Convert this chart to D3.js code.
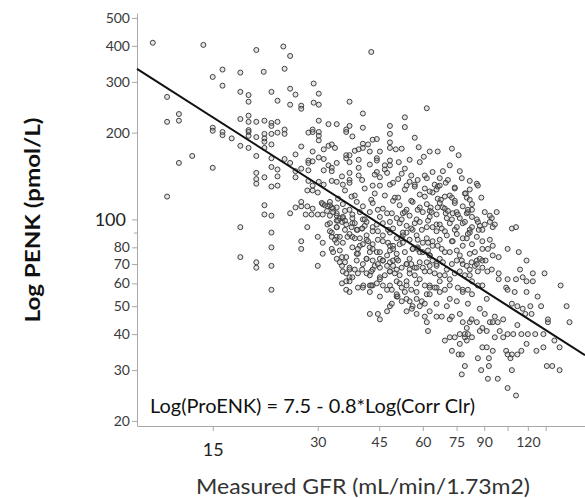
<!DOCTYPE html>
<html>
<head>
<meta charset="utf-8">
<script src="https://cdn.jsdelivr.net/npm/d3@7"></script>
<style>
  body { margin: 0; background: #fff; }
  text { font-family: Lato, "Open Sans", sans-serif; }
</style>
</head>
<body>
<div id="chart"></div>
<script>
const width = 585
const height = 498
const margins = { top: 13, bottom: 72, left: 137, right: 0 }

// tick values
const xTicks = [15, 30, 45, 60, 75, 90, 105, 120, 135]
const xLabels = [15, 30, 45, 60, 75, 90, 120]
const yTicks = [20, 30, 40, 50, 60, 70, 80, 90, 100, 200, 300, 400, 500]
const yLabels = [20, 30, 40, 50, 60, 70, 80, 100, 200, 300, 400, 500]

// fitted line as drawn (ends at plot edges)
const lineGfr = [9.1, 175]
const linePenk = [333, 33.8]

// measured GFR (x) and PENK (y)
const gfr = [
  10.1,14.1,20.0,23.9,25.0,16.0,15.0,18.0,21.0,24.1,16.0,18.0,19.0,19.0,22.1,23.0,25.0,25.0,11.1,12.0,
  11.1,12.0,15.0,15.0,16.0,16.0,17.0,18.0,19.0,19.0,20.0,21.1,22.1,22.1,23.0,19.0,19.0,19.0,20.0,21.1,
  21.1,21.1,22.1,23.0,24.1,24.1,18.0,19.0,21.1,22.1,13.1,20.0,22.1,24.1,12.0,15.0,11.1,20.0,20.0,20.0,
  21.1,22.1,22.1,23.0,23.0,23.0,25.0,21.1,21.1,22.1,25.0,18.0,22.1,22.1,18.0,20.0,20.0,22.1,22.1,
  25.9,26.9,26.9,26.9,28.0,30.0,30.0,31.0,31.0,32.0,32.9,32.9,32.9,34.0,34.0,34.0,34.0,35.2,35.2,27.7,
  28.8,30.0,31.0,28.0,29.0,31.0,32.0,32.9,34.0,34.0,35.2,35.2,36.2,36.2,36.2,
  26.9,28.0,29.0,30.0,30.8,31.4,32.5,33.2,31.9,32.5,34.0,34.7,35.4,35.9,37.7,37.7,37.5,39.0,40.2,40.9,
  36.5,37.7,41.4,41.4,39.6,42.3,43.1,44.3,45.2,43.1,41.4,43.7,45.2,47.4,48.3,49.3,50.5,46.1,48.3,50.5,
  52.2,53.9,55.0,56.9,58.8,60.0,62.8,65.7,48.3,49.3,51.5,52.6,55.0,56.1,58.0,60.0,62.8,64.0,66.2,
  37.0,37.0,37.0,38.3,39.1,40.2,40.5,42.3,42.3,43.1,45.2,46.1,42.3,44.6,48.3,50.5,48.3,51.5,53.9,53.3,
  56.1,57.6,59.6,61.6,62.8,65.7,
  45.2,47.4,62.1,50.8,55.0,53.9,57.6,60.8,61.6,55.8,58.8,62.8,65.7,68.0,71.7,69.4,71.7,74.1,76.6,79.2,
  80.2,76.6,83.0,72.7,76.0,77.6,79.2,77.6,86.3,88.2,92.8,92.8,92.2,98.4,105,111,88.9,91.5,95.2,104,
  105,108,107,112,115,108,119,127,133,136,141,148,158,155,137,137,131,128,119,110,
  148,143,133,126,120,115,112,109,105,102,99.7,96.5,118,116,112,108,123,122,102,98.4,
  93.4,88.9,87.4,91.5,95.2,85.7,81.8,80.2,78.1,79.2,80.8,
  76.0,64.0,68.5,69.8,85.7,86.3,79.7,80.2,64.0,65.7,66.2,67.6,72.7,74.1,83.0,63.2,66.2,68.5,69.8,75.0,
  80.8,83.0,86.3,94.6,96.5,108,111,86.8,83.0,88.9,95.2,105,113,95.2,99.0,119,114,124,134,149,
  116,124,111,105,119,104,105,99.0,99.0,94.6,88.9,91.9,88.9,85.7,84.6,81.8,78.1,
  29.2,30.2,25.9,26.9,26.9,29.2,30.2,37.0,61.6,40.4,53.3,53.3,30.2,32.2,34.0,37.0,36.2,36.2,40.4,37.7,
  48.3,48.3,48.3,56.9,28.2,29.0,29.0,30.2,30.2,30.2,26.9,29.0,31.2,32.2,32.9,40.4,43.1,44.3,39.3,40.4,
  42.3,45.2,48.3,52.2,25.9,28.2,28.2,29.0,30.2,31.2,36.2,36.2,37.0,39.3,44.3,44.3,42.3,39.3,48.3,55.0,
  60.4,62.8,25.9,26.9,28.2,32.2,32.9,31.2,34.0,32.9,37.0,37.0,37.0,39.3,44.3,46.7,46.7,48.3,47.4,45.2,
  51.2,52.2,61.6,58.0,25.9,28.2,29.0,30.2,31.2,32.9,34.0,35.4,37.0,43.1,45.2,48.3,49.3,53.9,56.9,64.9,
  42.7,
  32.5,34.0,35.4,37.0,38.8,40.4,43.1,46.1,49.3,51.5,53.9,56.1,58.8,61.6,62.8,67.1,69.4,74.1,78.1,83.0,
  33.2,35.4,37.7,40.4,42.3,45.2,47.4,50.5,52.6,55.0,57.6,60.0,62.8,65.7,70.3,73.1,76.6,80.2,85.7,93.4,97.7,
  32.5,34.0,36.2,38.8,41.4,43.1,46.1,49.3,51.5,53.9,56.1,58.8,61.6,65.7,68.0,71.7,75.1,78.1,81.8,87.4,93.4,95.2,
  32.5,34.7,37.0,39.6,43.1,46.1,48.3,50.5,53.9,57.6,61.6,65.7,70.3,75.1,78.1,81.8,85.7,
  35.4,37.7,40.4,43.1,46.1,49.3,52.6,56.1,60.0,64.0,68.0,73.1,78.1,83.0,88.9,
  33.2,36.2,38.8,41.4,45.2,47.4,50.5,55.0,58.8,62.8,67.1,71.7,76.6,81.8,87.4,
  34.7,37.0,40.4,43.1,46.1,49.3,53.9,57.6,61.6,65.7,70.3,75.1,80.2,85.7,
  35.4,37.7,41.4,45.2,48.3,51.5,55.0,58.8,62.8,67.1,71.7,76.6,81.8,
  37.0,40.4,44.3,47.4,50.5,53.9,57.6,62.8,67.1,71.7,78.1,83.0,88.9,
  42.3,45.2,50.5,53.9,57.6,62.8,67.1,71.7,78.1,83.0,91.5,
  35.9,38.3,40.9,43.7,49.9,53.3,58.8,62.8,69.4,74.1,79.2,
  53.3,55.6,58.8,67.1,71.7,76.6,81.8,
  33.6,38.3,41.8,50.2,58.4,66.2,72.7,
  35.2,40.2,43.7,51.0,55.0,60.8,70.8,77.6,
  34.3,37.5,42.7,46.7,51.0,55.6,60.8,66.2,71.7,81.8,88.3,
  35.9,39.6,44.6,48.9,53.3,58.0,63.6,70.8,75.6,80.8,90.3,
  34.3,38.3,40.9,44.3,48.3,52.2,56.9,62.1,67.1,72.7,79.2,90.3,
  35.9,40.2,44.6,47.7,52.6,55.6,59.6,64.0,69.4,74.1,80.8,88.9,
  33.6,38.3,41.8,44.6,47.7,52.2,58.0,62.1,67.1,72.7,80.2,93.4,
  34.7,39.1,42.3,48.3,53.3,58.0,62.1,69.4,75.1,84.6,92.2,
  35.9,38.8,44.6,51.0,55.6,64.0,68.5,72.7,77.6,82.8,90.8,
  39.1,42.7,46.7,49.9,56.9,60.8,64.9,69.4,74.1,79.2,86.3,
  39.1,42.7,48.9,52.2,55.6,60.8,64.9,69.4,75.6,80.8,86.3,
  48.9,52.2,60.8,65.7,70.3,75.1,80.8,87.4,
  72.7,76.6,82.8,90.3,96.5,
  56.9,60.8,67.1,74.1,81.8
]
const penk = [
  410,403,387,398,369,331,312,323,325,333,291,277,270,256,277,258,284,250,266,232,
  218,220,208,203,201,196,191,223,229,218,218,220,216,211,218,204,201,195,193,198,
  191,186,198,200,205,198,180,177,177,182,166,166,163,162,157,151,120,145,138,133,
  140,152,130,149,141,131,157,112,104,103,105,94,90,80,74,71,68,69,57,
  110,111,84,79,94,87,69,83,76,96,90,87,79,94,87,83,73,69,60,104,
  104,104,104,111,109,113,111,110,103,99,98,74,65,61,57,
  115,126,126,124,114,112,112,109,107,103,105,101,101,99,101,97,94,92,93,95,
  87,87,88,85,81,80,82,77,73,72,73,69,68,69,71,72,73,72,66,67,
  68,70,67,68,71,68,69,70,81,79,82,88,85,79,80,77,75,84,81,
  56,63,67,67,76,67,59,64,59,59,63,59,47,47,50,54,59,60,61,56,
  50,53,52,55,59,58,
  45,48,41,54,52,48,47,46,44,49,50,48,46,46,45,38,39,39,40,39,
  38,37,39,35,34,34,31,29,33,30,33,31,28,28,26,24.5,36,36,35,35,
  34,34,33,34,35,30,37,35,36,31,31,30,44,50,44,45,50,54,56,56,
  36,38,40,40,40,40,43,40,40,39,41,39,47,49,50,51,47,50,45,44,
  44,42,41,41,44,44,44,42,44,40,40,
  167,146,147,134,133,131,123,119,124,127,130,117,119,114,113,110,110,110,105,106,
  106,102,98,101,96,93,94,92,94,84,81,79,77,75,74,72,67,65,65,59,
  63,61,62,62,61,58,57,65,62,67,68,66,72,72,69,67,70,
  296,273,271,248,242,254,250,256,243,233,226,209,220,214,214,211,205,201,208,194,
  211,198,185,192,200,205,201,201,195,188,179,172,175,180,182,183,189,190,175,177,
  172,172,177,176,168,160,157,159,164,162,167,163,167,161,163,160,155,151,160,161,
  165,172,147,150,148,154,151,148,157,147,158,145,137,142,146,154,149,154,145,140,
  158,144,139,137,140,136,131,135,132,136,135,132,134,131,131,132,134,131,132,132,
  381,
  115,110,113,108,115,111,114,109,116,112,108,115,110,113,107,114,109,116,111,108,
  106,102,104,100,106,102,105,101,105,103,100,106,102,104,101,105,101,105,100,103,106,
  97,94,96,92,98,94,97,93,97,95,92,98,94,96,93,97,94,97,92,95,98,94,
  91,87,89,86,91,88,90,86,90,88,86,91,88,89,86,90,87,
  83,80,82,79,84,81,83,79,83,81,79,84,81,82,79,
  77,74,76,73,77,75,76,73,77,75,73,77,75,76,73,
  71,68,70,67,72,69,70,68,71,69,67,72,69,70,
  66,63,65,62,66,64,65,62,66,64,62,66,64,
  61,58,60,57,61,59,60,58,61,59,57,61,59,
  56,54,55,53,56,55,56,53,56,55,53,
  126,121,128,123,119,127,122,125,120,128,123,
  150,142,158,139,154,147,136,
  177,173,182,175,178,172,176,
  141,137,143,138,135,142,137,139,
  118,120,117,121,119,116,120,118,121,117,119,
  107,106,108,105,106,108,106,107,104,108,106,
  99,97,100,96,98,100,97,99,96,100,98,96,
  92,93,91,92,90,93,92,94,91,92,89,92,
  85,86,84,85,83,86,85,83,85,84,86,85,
  78,79,77,78,77,79,78,77,78,77,79,
  71,72,70,72,70,72,71,70,72,71,72,
  65,66,64,65,64,66,65,64,65,64,66,
  58,59,57,58,57,59,58,57,58,57,59,
  51,52,51,51,50,52,51,49,
  46,47,45,47,46,
  130,128,131,129,127
]
const points = gfr.map((g, i) => ({ gfr: g, penk: penk[i] }))

let svg = d3.select('#chart').append('svg').attr('width', width).attr('height', height)

let x = d3.scaleLog().domain([9.1, 175]).range([margins.left, width - margins.right])
let y = d3.scaleLog().domain([19.2, 520]).range([height - margins.bottom, margins.top])

// axes
let xAxisGroup = svg.append('g')
    .attr('transform', `translate(0, ${height - margins.bottom})`)
    .call(d3.axisBottom(x).tickValues(xTicks).tickSize(5).tickSizeOuter(0)
        .tickFormat(d => xLabels.includes(d) ? d : ''))
let yAxisGroup = svg.append('g')
    .attr('transform', `translate(${margins.left}, 0)`)
    .call(d3.axisLeft(y).tickValues(yTicks).tickSize(5).tickSizeOuter(0)
        .tickFormat(d => yLabels.includes(d) ? d : ''))

svg.selectAll('.domain, .tick line').attr('stroke', '#a8a8a8')
svg.selectAll('.tick text').attr('fill', '#3a3a3a').style('font-size', '14px')
    .style('font-family', 'Lato, sans-serif')
yAxisGroup.selectAll('.tick text').attr('x', -7)
yAxisGroup.selectAll('.tick').filter(d => d === 100).select('text')
    .style('font-size', '18px').attr('x', -11).attr('fill', '#222')
yAxisGroup.selectAll('.tick').filter(d => d === 90).select('line').attr('x2', -3)
xAxisGroup.selectAll('.tick text').attr('y', 11)
xAxisGroup.selectAll('.tick').filter(d => d === 15).select('text')
    .style('font-size', '18px').attr('y', 17).attr('fill', '#222')

// points
svg.append('g').selectAll('circle').data(points).enter()
    .append('circle')
    .attr('cx', d => x(d.gfr))
    .attr('cy', d => y(d.penk))
    .attr('r', 2.5)
    .attr('fill', 'rgba(150,150,150,0.25)')
    .attr('stroke', '#404040')
    .attr('stroke-width', 1)

// fit line
svg.append('line')
    .attr('x1', x(lineGfr[0])).attr('y1', y(linePenk[0]))
    .attr('x2', x(lineGfr[1])).attr('y2', y(linePenk[1]))
    .attr('stroke', '#111').attr('stroke-width', 2)

// equation
svg.append('text')
    .attr('x', 150).attr('y', 413)
    .style('font-size', '19.5px').attr('fill', '#111')
    .attr('textLength', 325).attr('lengthAdjust', 'spacingAndGlyphs')
    .text('Log(ProENK) = 7.5 - 0.8*Log(Corr Clr)')

// axis titles
svg.append('text')
    .attr('x', 363).attr('y', 494)
    .attr('text-anchor', 'middle')
    .style('font-size', '22px').attr('fill', '#333')
    .attr('textLength', 334).attr('lengthAdjust', 'spacingAndGlyphs')
    .text('Measured GFR (mL/min/1.73m2)')

svg.append('text')
    .attr('transform', 'translate(40, 220) rotate(-90)')
    .attr('text-anchor', 'middle')
    .style('font-size', '20px').style('font-weight', 'bold').attr('fill', '#111')
    .attr('textLength', 205).attr('lengthAdjust', 'spacingAndGlyphs')
    .text('Log PENK (pmol/L)')
</script>
</body>
</html>
